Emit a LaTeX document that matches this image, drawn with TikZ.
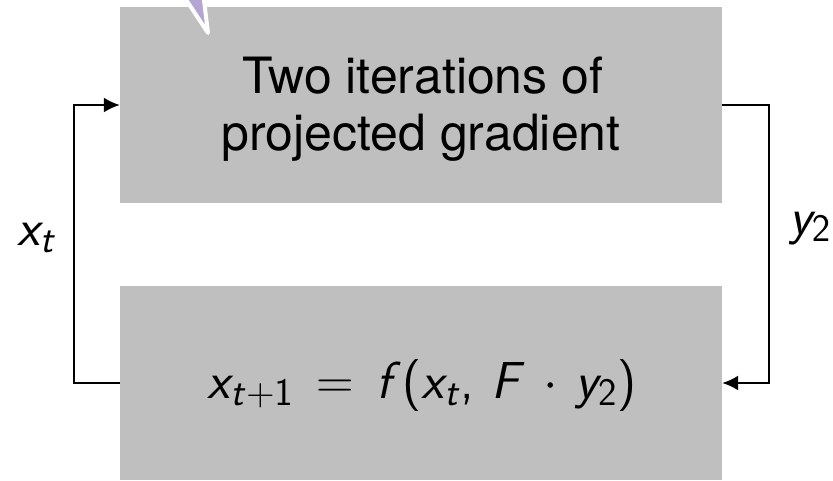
\RequirePackage{fix-cm}
\documentclass[tikz,border=0pt]{standalone}
\usepackage{fontspec}
\newfontfamily\heros{TeX Gyre Heros}
\DeclareMathAlphabet{\mathsfit}{OT1}{cmss}{m}{sl}
\DeclareMathAlphabet{\mathsfup}{OT1}{cmss}{m}{n}
\DeclareMathSizes{52}{52}{39}{30}
\usetikzlibrary{arrows.meta}
\definecolor{boxgray}{RGB}{191,191,191}
\definecolor{calloutpurple}{RGB}{180,165,210}
\newcommand{\sfv}[1]{\mathsfit{#1}}
\newcommand{\bigmath}{\fontsize{52}{60}\selectfont\thinmuskip=6mu\medmuskip=6mu\thickmuskip=8mu\relax}
\tikzset{
  graybox/.style={fill=boxgray, minimum width=602pt, inner sep=0pt, anchor=center},
  boxtext/.style={inner sep=0pt, anchor=base, font=\heros\fontsize{50}{57}\selectfont},
  conn/.style={line width=2pt, -{Latex[length=16pt,width=15pt]}},
  lbl/.style={inner sep=0pt, anchor=base, font=\bigmath}
}
\begin{document}
\begin{tikzpicture}[x=1pt,y=-1pt]
\useasboundingbox (0,0) rectangle (833,480);
\node[graybox, minimum height=196pt] (top) at (421,105) {};
\node[graybox, minimum height=194pt] (bot) at (421,383) {};
\node[boxtext] (t1) at (423,93) {Two iterations of};
\node[boxtext] (t2) at (421,150) {projected gradient};
\node[lbl] (eq) at (422,398)
  {$\sfv{x}_{\sfv{t}+\mathsfup{1}} = \sfv{f}\mathopen{\textsf{(}}\sfv{x}_{\sfv{t}}\mathpunct{\textsf{,}}\sfv{F}\cdot\sfv{y}_{\mathsfup{2}}\mathclose{\textsf{)}}$};
\filldraw[fill=calloutpurple, draw=white, line width=4pt, line join=round]
  (181,-8) -- (208,33) -- (203,-8) -- cycle;
\node[lbl] (xl) at (37,245) {$\sfv{x}_{\sfv{t}}$};
\node[lbl] (yl) at (810,234) {$\sfv{y}_{\mathsfup{2}}$};
\draw[conn] (bot.west) -- ++(-46,0) |- (top.west);
\draw[conn] (top.east) -- ++(47,0) |- (bot.east);
\end{tikzpicture}
\end{document}
